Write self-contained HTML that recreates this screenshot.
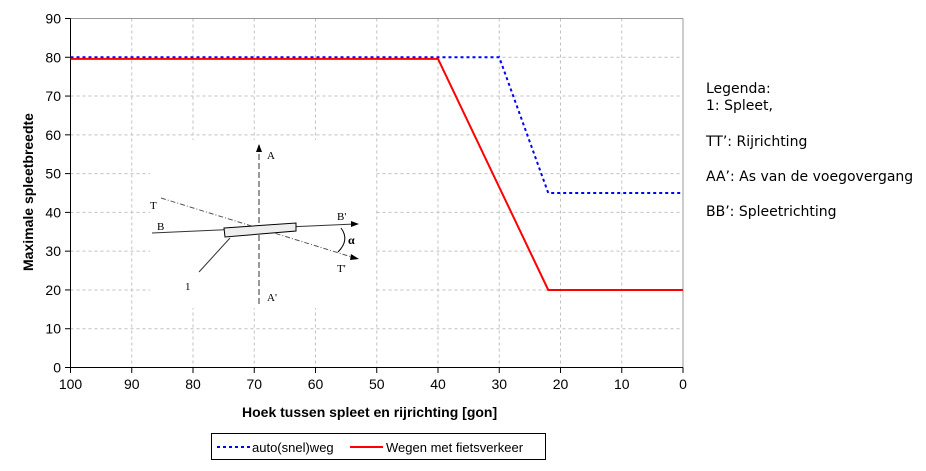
<!DOCTYPE html>
<html><head><meta charset="utf-8"><style>
body{margin:0;background:#fff;width:926px;height:466px;overflow:hidden}
svg{font-family:"Liberation Sans",sans-serif}
</style></head><body>
<svg width="926" height="466">
<g id="grid"></g>
<g id="inset">
<rect x="150" y="140" width="225" height="168" fill="#fff"/>
<line x1="259" y1="145" x2="259" y2="305" stroke="#555" stroke-dasharray="6,3" stroke-width="1.2"/>
<polygon points="259,144 256,152 262,152" fill="#000"/>
<text x="267" y="159" font-family="Liberation Serif" font-size="11">A</text>
<text x="267" y="301" font-family="Liberation Serif" font-size="11">A'</text>
<line x1="152" y1="233" x2="355" y2="224" stroke="#333"/>
<polygon points="359,224 351,221 351,227" fill="#000"/>
<text x="157" y="230" font-family="Liberation Serif" font-size="11">B</text>
<text x="337" y="220" font-family="Liberation Serif" font-size="11">B'</text>
<line x1="161" y1="198" x2="355" y2="258" stroke="#555" stroke-dasharray="5,2,1,2"/>
<polygon points="359,259 351,254 350,260" fill="#000"/>
<text x="150" y="209" font-family="Liberation Serif" font-size="11">T</text>
<text x="337" y="272" font-family="Liberation Serif" font-size="11">T'</text>
<polygon points="224,228 296,223 296,231 225,237" fill="#eee" stroke="#000"/>
<line x1="230" y1="238" x2="199" y2="272" stroke="#333"/>
<text x="185" y="290" font-family="Liberation Serif" font-size="11">1</text>
<path d="M341,228 Q350,240 338,252" fill="none" stroke="#000"/>
<text x="348" y="244" font-family="Liberation Serif" font-size="12" font-weight="bold">α</text>
</g>
<g id="axes"></g>
<g id="series"></g>
<text x="242" y="417" font-size="14" font-weight="bold">Hoek tussen spleet en rijrichting [gon]</text>
<text transform="translate(33,192) rotate(-90)" text-anchor="middle" font-size="14" font-weight="bold">Maximale spleetbreedte</text>
<g font-family="DejaVu Sans,sans-serif" font-size="14">
<text x="706" y="93">Legenda:</text>
<text x="706" y="110">1: Spleet,</text>
<text x="706" y="146">TT’: Rijrichting</text>
<text x="706" y="181">AA’: As van de voegovergang</text>
<text x="706" y="216">BB’: Spleetrichting</text>
</g>
<g>
<rect x="211.5" y="433.5" width="334" height="26" fill="#fff" stroke="#000"/>
<line x1="217" y1="447" x2="250" y2="447" stroke="#0000ff" stroke-width="2" stroke-dasharray="3,3"/>
<text x="252" y="452" font-size="13">auto(snel)weg</text>
<line x1="350" y1="447" x2="383" y2="447" stroke="#ff0000" stroke-width="2"/>
<text x="386" y="452" font-size="13">Wegen met fietsverkeer</text>
</g>
</svg>
<script>
const xTicks=[100,90,80,70,60,50,40,30,20,10,0];
const yTicks=[0,10,20,30,40,50,60,70,80,90];
const autoX=[100,30,22,0];
const autoY=[80,80,45,45];
const fietsX=[100,40,22,0];
const fietsY=[79.6,79.6,20,20];
const NS="http://www.w3.org/2000/svg";
const X=v=>70.5+(100-v)*6.125, Y=v=>367.5-v*3.8778;
function mk(t,a,p){const e=document.createElementNS(NS,t);for(const k in a)e.setAttribute(k,a[k]);p.appendChild(e);return e;}
const g=document.getElementById('grid'),ax=document.getElementById('axes'),s=document.getElementById('series');
xTicks.forEach(v=>{if(v<100){const l=mk('line',{x1:X(v),x2:X(v),y1:Y(90),y2:Y(0),stroke:'#c0c0c0','stroke-dasharray':'3,3'},g);

}
mk('line',{x1:X(v),x2:X(v),y1:367.5,y2:373,stroke:'#000'},ax);
const t=mk('text',{x:X(v),y:389,'text-anchor':'middle','font-size':14},ax);t.textContent=v;

});
yTicks.forEach(v=>{if(v>0&&v<90){const l=mk('line',{x1:X(100),x2:X(0),y1:Y(v),y2:Y(v),stroke:'#c0c0c0','stroke-dasharray':'3,3'},g);

}
mk('line',{x1:65,x2:70.5,y1:Y(v),y2:Y(v),stroke:'#000'},ax);
const t=mk('text',{x:61,y:Y(v)+5,'text-anchor':'end','font-size':14},ax);t.textContent=v;

});
mk('line',{x1:X(100),x2:X(0),y1:Y(90),y2:Y(90),stroke:'#999'},g);
mk('line',{x1:X(0),x2:X(0),y1:Y(90),y2:Y(0),stroke:'#999'},g);
mk('line',{x1:70.5,x2:70.5,y1:Y(90),y2:Y(0),stroke:'#000'},ax);
mk('line',{x1:70.5,x2:X(0),y1:Y(0),y2:Y(0),stroke:'#000'},ax);
const pa=mk('polyline',{points:autoX.map((x,i)=>X(x)+','+Y(autoY[i])).join(' '),fill:'none',stroke:'#0000ff','stroke-width':2,'stroke-dasharray':'3,3'},s);


const pf=mk('polyline',{points:fietsX.map((x,i)=>X(x)+','+Y(fietsY[i])).join(' '),fill:'none',stroke:'#ff0000','stroke-width':2},s);


</script>
</body></html>
